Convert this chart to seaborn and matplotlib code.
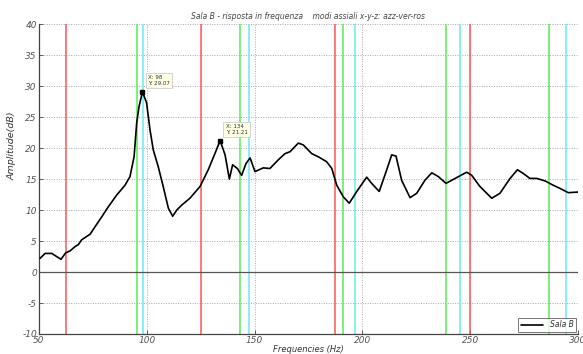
import matplotlib
matplotlib.use("Agg")
import matplotlib.pyplot as plt
import numpy as np
import pandas as pd
import seaborn as sns

# Measured response of room "Sala B"
freq = [50.5, 52.8, 55.9, 60.2, 62.4, 64.4, 66.7, 68.2, 69.8, 73.7, 76.0, 79.1,
        82.1, 86.0, 89.9, 92.2, 94.1, 95.3, 96.4, 98.0, 99.9, 101.5, 103.0, 105.3,
        107.6, 110.0, 112.0, 113.9, 116.2, 120.0, 124.7, 128.5, 131.6, 134.0,
        136.3, 138.3, 139.8, 142.0, 144.0, 146.0, 147.9, 150.2, 154.0, 157.1,
        161.0, 164.1, 166.4, 170.3, 172.6, 176.5, 179.5, 183.4, 185.8, 188.1,
        191.2, 193.9, 197.4, 202.0, 204.3, 207.8, 211.3, 213.6, 215.6, 218.2,
        222.1, 225.2, 229.0, 232.2, 235.2, 238.8, 243.0, 248.4, 250.7, 254.5,
        260.0, 263.8, 268.5, 271.9, 274.6, 277.7, 280.8, 284.7, 288.5, 291.6,
        295.5, 300.0]
amp = [2.2, 3.0, 3.0, 2.05, 3.1, 3.4, 4.1, 4.4, 5.2, 6.1, 7.3, 8.9,
       10.5, 12.4, 14.0, 15.4, 18.6, 24.0, 26.7, 29.07, 27.3, 22.9, 19.7, 17.0,
       13.8, 10.3, 9.0, 10.0, 10.8, 11.9, 13.8, 16.5, 19.1, 21.21,
       18.9, 15.0, 17.3, 16.7, 15.6, 17.5, 18.4, 16.2, 16.8, 16.7,
       18.1, 19.1, 19.4, 20.8, 20.5, 19.1, 18.6, 17.8, 16.7, 14.0,
       12.1, 11.1, 13.0, 15.3, 14.3, 13.0, 16.5, 18.9, 18.7, 14.8,
       12.0, 12.7, 14.8, 16.0, 15.4, 14.3, 15.1, 16.1, 15.6, 13.8,
       11.9, 12.7, 15.1, 16.5, 15.9, 15.1, 15.1, 14.7, 14.0, 13.5,
       12.8, 12.9]

# Axial room modes along x, y, z (Hz)
modes_x = [98.2, 147.3, 196.4, 245.5, 294.6]   # azzurro
modes_y = [95.6, 143.4, 191.2, 238.9, 286.7]   # verde
modes_z = [62.5, 125.0, 187.5, 250.0]          # rosso

# Data tips on the two main peaks
tips_x = [98, 134]
tips_y = [29.07, 21.21]

xticks = [50, 100, 150, 200, 250, 300]
yticks = [-10, -5, 0, 5, 10, 15, 20, 25, 30, 35, 40]

sns.set_theme(style="white")
plt.rcParams["font.family"] = ["DejaVu Sans"]
plt.rcParams["axes.unicode_minus"] = False

txt = "#555555"
fig = plt.figure(figsize=(5.83, 3.54), dpi=100)
ax = fig.add_axes([0.0669, 0.0565, 0.9245, 0.8755])

ax.set_xlim(50, 300)
ax.set_ylim(-10, 40)
ax.set_xticks(xticks)
ax.set_yticks(yticks)
ax.grid(True, color="#aaaaaa", linestyle=(0, (1, 1.5)), linewidth=0.7)

for f in modes_z:
    ax.axvline(f, color="#ff5555", linewidth=1.1, zorder=2)
for f in modes_y:
    ax.axvline(f, color="#55ee55", linewidth=1.1, zorder=2)
for f in modes_x:
    ax.axvline(f, color="#66eeee", linewidth=1.1, zorder=2)

ax.axhline(0, color="#555555", linewidth=0.9, zorder=2)

df = pd.DataFrame({"Frequencies (Hz)": freq, "Amplitude(dB)": amp})
sns.lineplot(data=df, x="Frequencies (Hz)", y="Amplitude(dB)", ax=ax,
             color="black", linewidth=1.2, label="Sala B", zorder=3,
             sort=False)

for tx, ty in zip(tips_x, tips_y):
    ax.plot([tx], [ty], marker="s", color="black", markersize=3.5, zorder=5)
    ax.annotate(f"X: {tx}\nY: {ty}", xy=(tx, ty), xytext=(4, 4),
                textcoords="offset points", ha="left", va="bottom",
                fontsize=4, color="#333333", zorder=6,
                bbox=dict(boxstyle="square,pad=0.4", fc="#ffffe6",
                          ec="#cccccc", lw=0.6))

for side in ["top", "right"]:
    ax.spines[side].set_visible(False)
for side in ["left", "bottom"]:
    ax.spines[side].set_color("#444444")
    ax.spines[side].set_linewidth(0.9)

ax.tick_params(axis="both", direction="in", length=3, width=0.6,
               colors="#444444", labelcolor=txt, labelsize=6.5,
               bottom=True, left=True, pad=1.5)
for lab in ax.get_xticklabels() + ax.get_yticklabels():
    lab.set_fontstyle("italic")

ax.set_xlabel("Frequencies (Hz)", fontsize=6, fontstyle="italic",
              color="#333333", labelpad=0)
ax.set_ylabel("Amplitude(dB)", fontsize=6.8, fontstyle="italic",
              color="#333333")
ax.yaxis.set_label_coords(-0.041, 0.606)
ax.set_title("Sala B - risposta in frequenza    modi assiali x-y-z: azz-ver-ros",
             fontsize=5.5, fontstyle="italic", color="#444444", pad=4)

leg = ax.legend(loc="lower right", fontsize=5.5, frameon=True, fancybox=False,
                handlelength=3, borderpad=0.3, borderaxespad=0.3)
leg.get_frame().set_edgecolor("#555555")
leg.get_frame().set_linewidth(0.7)
for t in leg.get_texts():
    t.set_fontstyle("italic")
    t.set_color("#333333")

fig.savefig("out.png", dpi=100)
